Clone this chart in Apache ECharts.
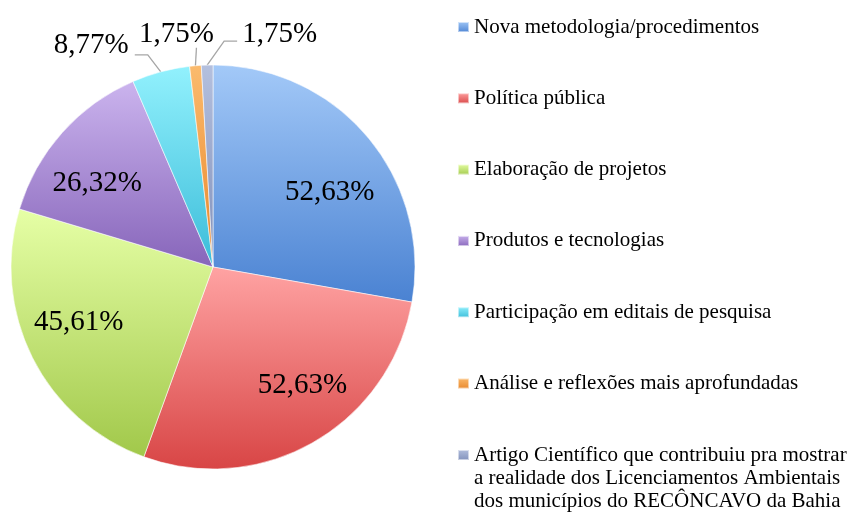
<!DOCTYPE html>
<html>
<head>
<meta charset="utf-8">
<script src="https://cdn.jsdelivr.net/npm/echarts@6/dist/echarts.min.js"></script>
<style>html,body{margin:0;padding:0;background:#fff;}#c{width:854px;height:513px;}</style>
</head>
<body>
<div id="c"></div>
<script>
const categories = [
  'Nova metodologia/procedimentos',
  'Política pública',
  'Elaboração de projetos',
  'Produtos e tecnologias',
  'Participação em editais de pesquisa',
  'Análise e reflexões mais aprofundadas',
  'Artigo Científico que contribuiu pra mostrar\na realidade dos Licenciamentos Ambientais\ndos municípios do RECÔNCAVO da Bahia'
];
const values = [52.63, 52.63, 45.61, 26.32, 8.77, 1.75, 1.75];
const topColors = ['#a3c9f8', '#ffa3a3', '#e6ffa6', '#cbb4ee', '#92f1fd', '#fbbb6e', '#b4c0de'];
const bottomColors = ['#4a82d2', '#d84545', '#a1c84a', '#8765ba', '#3bbcd9', '#e8862a', '#7f8fba'];
const insideIdx = [0, 1, 2, 3];

const FONT = '"Liberation Serif", "Times New Roman", serif';
function fmt(v) { return v.toFixed(2).replace('.', ',') + '%'; }
function grad(i) {
  return new echarts.graphic.LinearGradient(0, 0, 0, 1, [
    { offset: 0, color: topColors[i] },
    { offset: 1, color: bottomColors[i] }
  ]);
}

const mainData = values.map((v, i) => ({
  name: categories[i],
  value: v,
  itemStyle: { color: grad(i) },
  label: { show: insideIdx.indexOf(i) < 0 },
  labelLine: { show: insideIdx.indexOf(i) < 0 }
}));
const overlayData = values.map((v, i) => ({
  name: categories[i],
  value: v,
  label: { show: insideIdx.indexOf(i) >= 0 }
}));

const chart = echarts.init(document.getElementById('c'));
chart.setOption({
  backgroundColor: '#ffffff',
  animation: false,
  legend: [
    {
      orient: 'vertical', left: 457, top: 15.5, padding: 0,
      itemWidth: 11, itemHeight: 10, itemGap: 48.3, icon: 'rect',
      selectedMode: false,
      textStyle: { fontFamily: FONT, fontSize: 21, color: '#000', lineHeight: 23 },
      data: categories.slice(0, 6)
    },
    {
      orient: 'vertical', left: 457, top: 397.5, padding: 0,
      itemWidth: 11, itemHeight: 10, icon: 'rect',
      selectedMode: false,
      formatter: name => '\n\n' + name,
      textStyle: { fontFamily: FONT, fontSize: 21, color: '#000', lineHeight: 23 },
      data: categories.slice(6)
    }
  ],
  series: [
    {
      type: 'pie',
      center: [213, 267],
      radius: [0, 202],
      startAngle: 90,
      clockwise: true,
      avoidLabelOverlap: false,
      itemStyle: { borderColor: 'rgba(255,255,255,0.55)', borderWidth: 1 },
      label: {
        position: 'outside',
        formatter: p => fmt(p.value),
        fontFamily: FONT, fontSize: 29, color: '#000'
      },
      labelLine: { length: 15, length2: 12, lineStyle: { color: '#a6a6a6', width: 1.3 } },
      labelLayout: function (p) {
        const pts = p.labelLinePoints;
        if (!pts || !pts.length) return {};
        const p0 = pts[0];
        if (p.dataIndex === 4) {
          const p1 = [p0[0] - 13, p0[1] - 17];
          const p2 = [p1[0] - 13, p1[1]];
          return { x: p2[0] - 6, y: p2[1] - 9, align: 'right', verticalAlign: 'middle', labelLinePoints: [p0, p1, p2] };
        }
        if (p.dataIndex === 5) {
          const p1 = [p0[0] + 1, p0[1] - 18];
          return { x: p1[0] - 20, y: p1[1] - 13, align: 'center', verticalAlign: 'middle', labelLinePoints: [p0, p1, p1] };
        }
        if (p.dataIndex === 6) {
          const p1 = [p0[0] + 17, p0[1] - 24];
          const p2 = [p1[0] + 13, p1[1]];
          return { x: p2[0] + 5, y: p2[1] - 7, align: 'left', verticalAlign: 'middle', labelLinePoints: [p0, p1, p2] };
        }
        return {};
      },
      data: mainData
    },
    {
      type: 'pie',
      center: [213, 267],
      radius: [86, 202],
      startAngle: 90,
      clockwise: true,
      silent: true,
      itemStyle: { color: 'rgba(0,0,0,0)' },
      label: {
        position: 'inside',
        formatter: p => fmt(p.value),
        fontFamily: FONT, fontSize: 29, color: '#000'
      },
      labelLayout: function (p) {
        switch (p.dataIndex) {
          case 0: return { dx: 4, dy: 20 };
          case 1: return { dx: 16, dy: -9 };
          case 2: return { dx: -3, dy: -11 };
          case 3: return { dx: -6, dy: 14 };
        }
        return {};
      },
      labelLine: { show: false },
      emphasis: { disabled: true },
      data: overlayData
    }
  ]
});
</script>
</body>
</html>
